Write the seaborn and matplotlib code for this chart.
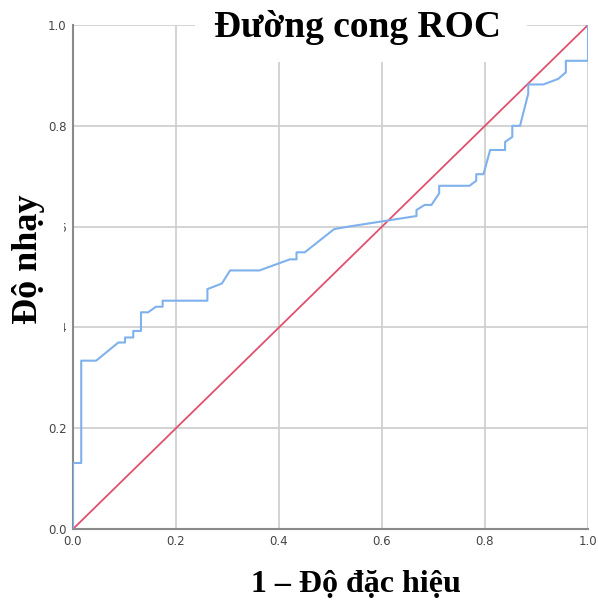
import matplotlib
matplotlib.use("Agg")
import matplotlib.pyplot as plt
import seaborn as sns
import pandas as pd
from matplotlib.patches import Rectangle

# ROC curve data
fpr = [0.0, 0.0, 0.016, 0.016, 0.045, 0.088, 0.101, 0.101, 0.117, 0.117,
       0.132, 0.132, 0.146, 0.161, 0.174, 0.174, 0.261, 0.261, 0.289, 0.305,
       0.362, 0.421, 0.434, 0.434, 0.450, 0.507, 0.535, 0.667, 0.667, 0.683,
       0.696, 0.711, 0.711, 0.770, 0.783, 0.783, 0.797, 0.810, 0.839, 0.839,
       0.853, 0.853, 0.868, 0.884, 0.884, 0.913, 0.942, 0.957, 0.957, 1.0, 1.0]
tpr = [0.0, 0.131, 0.131, 0.334, 0.334, 0.370, 0.370, 0.380, 0.380, 0.393,
       0.393, 0.430, 0.430, 0.441, 0.441, 0.453, 0.453, 0.476, 0.487, 0.513,
       0.513, 0.535, 0.535, 0.549, 0.549, 0.595, 0.600, 0.621, 0.633, 0.643,
       0.643, 0.666, 0.681, 0.681, 0.691, 0.704, 0.704, 0.752, 0.752, 0.768,
       0.778, 0.800, 0.800, 0.864, 0.882, 0.882, 0.893, 0.906, 0.929, 0.929, 1.0]
ref_x = [0.0, 1.0]
ref_y = [0.0, 1.0]
ticks = [0.0, 0.2, 0.4, 0.6, 0.8, 1.0]
tick_labels = ["0.0", "0.2", "0.4", "0.6", "0.8", "1.0"]

title_text = "Đường cong ROC"
xlabel_text = "1 – Độ đặc hiệu"
ylabel_text = "Độ nhạy"

sns.set_theme(style="white")
plt.rcParams["font.family"] = ["DejaVu Sans"]

W, H = 598, 601
fig = plt.figure(figsize=(W / 100, H / 100), dpi=100)
ax = fig.add_axes([73 / W, 1 - 529 / H, (588 - 73) / W, (529 - 25) / H])

df_roc = pd.DataFrame({"x": fpr, "y": tpr})
df_ref = pd.DataFrame({"x": ref_x, "y": ref_y})

sns.lineplot(data=df_ref, x="x", y="y", sort=False, estimator=None, ax=ax,
             color="#e0506f", linewidth=1.3, zorder=4)
sns.lineplot(data=df_roc, x="x", y="y", sort=False, estimator=None, ax=ax,
             color="#7fb1ec", linewidth=1.5, zorder=5)

ax.set_xlim(0, 1)
ax.set_ylim(0, 1)
ax.set_xticks(ticks)
ax.set_yticks(ticks)
ax.set_xticklabels(tick_labels)
ax.set_yticklabels(tick_labels)
ax.tick_params(axis="both", length=0, pad=4.5, labelsize=8.5, labelcolor="#444444")
ax.grid(True, color="#cccccc", linewidth=1.2)
ax.set_axisbelow(True)
for s in ["top", "right"]:
    ax.spines[s].set_visible(False)
for s in ["left", "bottom"]:
    ax.spines[s].set_color("#8a8a8a")
    ax.spines[s].set_linewidth(1.5)
    ax.spines[s].set_zorder(3)
ax.set_xlabel("")
ax.set_ylabel("")

# white boxes behind the title and the y label
fig.patches.append(Rectangle((195 / W, 1 - 62 / H), 332 / W, 62 / H,
                             transform=fig.transFigure, facecolor="white",
                             edgecolor="none", zorder=10))
fig.patches.append(Rectangle((0, 1 - 340 / H), 64 / W, 155 / H,
                             transform=fig.transFigure, facecolor="white",
                             edgecolor="none", zorder=10))

serif = ["Liberation Serif", "DejaVu Serif"]
fig.text(358 / W, 1 - 37 / H, title_text, ha="center", va="baseline",
         fontsize=27, fontweight="bold", family=serif, color="black", zorder=11)
fig.text(356 / W, 1 - 592 / H, xlabel_text, ha="center", va="baseline",
         fontsize=23, fontweight="bold", family=serif, color="black", zorder=11)
fig.text(37 / W, 1 - 259 / H, ylabel_text, ha="center", va="baseline",
         rotation=90, rotation_mode="anchor",
         fontsize=26, fontweight="bold", family=serif, color="black", zorder=11)

fig.savefig("out.png", dpi=100)
